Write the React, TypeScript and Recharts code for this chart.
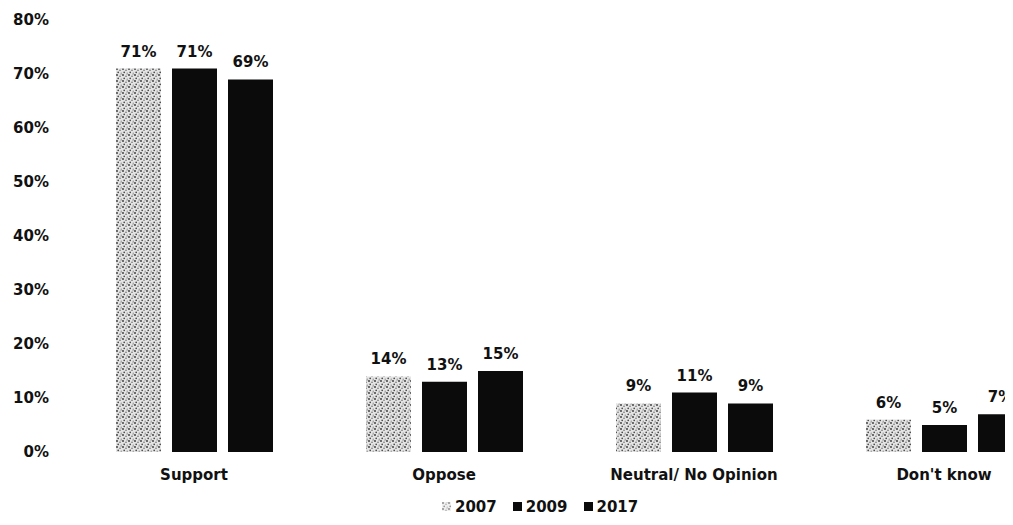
import React from 'react';
import { BarChart, Bar, XAxis, YAxis, LabelList, Legend } from 'recharts';

const categories = ['Support', 'Oppose', 'Neutral/ No Opinion', "Don't know"];
const values2007 = [71, 14, 9, 6];
const values2009 = [71, 13, 11, 5];
const values2017 = [69, 15, 9, 7];
const yTicks = [0, 10, 20, 30, 40, 50, 60, 70, 80];
const seriesNames = ['2007', '2009', '2017'];

const data = categories.map((c, i) => ({
  category: c,
  y2007: values2007[i],
  y2009: values2009[i],
  y2017: values2017[i],
}));

const FONT = "'DejaVu Sans', Verdana, sans-serif";
const TEXT = '#111';
const DARK = '#0b0b0b';

const textStyle = { fill: TEXT, fontSize: 15, fontWeight: 700, fontFamily: FONT };

const pct = (v: any) => `${v}%`;

const LegendContent = () => {
  const items = [
    { name: seriesNames[0], fill: 'url(#speckle)', light: true },
    { name: seriesNames[1], fill: DARK },
    { name: seriesNames[2], fill: DARK },
  ];
  return (
    <div style={{ display: 'flex', alignItems: 'center', marginLeft: 434, fontFamily: FONT, fontSize: 15, fontWeight: 700, color: TEXT }}>
      {items.map((it) => (
        <div key={it.name} style={{ display: 'flex', alignItems: 'center', marginRight: 16 }}>
          <svg width={10} height={10} style={{ marginRight: 3 }}>
            <rect x={0} y={0} width={9} height={9} fill={it.fill} opacity={it.light ? 0.6 : 1} />
          </svg>
          <span>{it.name}</span>
        </div>
      ))}
    </div>
  );
};

export default function App() {
  return (
    <div style={{ width: 1005, height: 517, overflow: 'hidden', position: 'relative', background: '#fff' }}>
      <BarChart
        width={1061}
        height={517}
        data={data}
        margin={{ top: 12, right: 0, bottom: 0, left: 0 }}
        barSize={45}
        barGap={11}
      >
        <defs>
          <pattern id="speckle" width="6" height="6" patternUnits="userSpaceOnUse">
            <rect x="0" y="0" width="6" height="6" fill="#e4e4e4" />
            <circle cx="1" cy="1" r="0.9" fill="#333" />
            <circle cx="4" cy="2.3" r="0.7" fill="#555" />
            <circle cx="2.2" cy="4.4" r="0.8" fill="#444" />
            <circle cx="5.2" cy="5.2" r="0.6" fill="#777" />
            <circle cx="5" cy="0.5" r="0.5" fill="#888" />
          </pattern>
        </defs>
        <XAxis
          dataKey="category"
          axisLine={false}
          tickLine={false}
          tickSize={0}
          tickMargin={17}
          height={73}
          interval={0}
          tick={textStyle}
        />
        <YAxis
          domain={[0, 80]}
          ticks={yTicks}
          tickFormatter={pct}
          width={61}
          axisLine={false}
          tickLine={false}
          tickSize={0}
          tickMargin={20}
          tick={textStyle}
        />
        <Legend
          layout="horizontal"
          verticalAlign="middle"
          align="center"
          content={<LegendContent />}
          wrapperStyle={{ top: 490, left: 0, width: 1005, height: 20 }}
        />
        <Bar dataKey="y2007" name={seriesNames[0]} fill="url(#speckle)" isAnimationActive={false}>
          <LabelList dataKey="y2007" position="top" offset={12} formatter={pct} {...textStyle} />
        </Bar>
        <Bar dataKey="y2009" name={seriesNames[1]} fill={DARK} isAnimationActive={false}>
          <LabelList dataKey="y2009" position="top" offset={12} formatter={pct} {...textStyle} />
        </Bar>
        <Bar dataKey="y2017" name={seriesNames[2]} fill={DARK} isAnimationActive={false}>
          <LabelList dataKey="y2017" position="top" offset={12} formatter={pct} {...textStyle} />
        </Bar>
      </BarChart>
    </div>
  );
}
